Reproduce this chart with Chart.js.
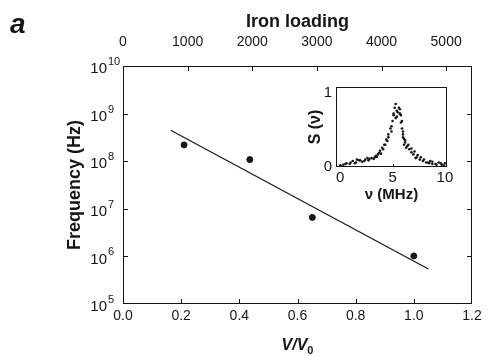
<!DOCTYPE html>
<html>
<head>
<meta charset="utf-8">
<script src="https://cdn.jsdelivr.net/npm/chart.js@4/dist/chart.umd.min.js"></script>
<style>
  body { margin: 0; background: #fff; }
  #wrap { position: relative; width: 487px; height: 356px; }
  #main { position: absolute; left: 0; top: 0; }
  #inset { position: absolute; left: 300px; top: 74px; }
</style>
</head>
<body>
<div id="wrap">
  <canvas id="main" width="487" height="356"></canvas>
  <canvas id="inset" width="160" height="130"></canvas>
</div>
<script>
// main panel: frequency vs V/V0
const vRatio = [0.21, 0.436, 0.651, 1.0];
const freqHz = [2.2e8, 1.08e8, 6.6e6, 1.02e6];
const fitX = [0.164, 1.05];
const fitY = [4.46e8, 5.44e5];
const xTicks = [0.0, 0.2, 0.4, 0.6, 0.8, 1.0, 1.2];
const ironTicks = [0, 1000, 2000, 3000, 4000, 5000];
const freqTicks = [1e5, 1e6, 1e7, 1e8, 1e9, 1e10];

// inset: S(nu) spectrum, dotted strands
const nuA = [0.0, 0.3, 0.6, 0.9, 1.2, 1.5, 1.8, 2.1, 2.4, 2.7, 3.0, 3.2, 3.4, 3.6, 3.8, 4.0, 4.2, 4.4, 4.6, 4.8, 5.0, 5.1, 5.2, 5.3, 5.4];
const sA = [0.02, 0.03, 0.05, 0.04, 0.08, 0.06, 0.09, 0.07, 0.10, 0.09, 0.12, 0.11, 0.15, 0.17, 0.22, 0.26, 0.30, 0.37, 0.44, 0.52, 0.62, 0.70, 0.80, 0.85, 0.76];
const nuB = [0.1, 0.5, 1.0, 1.4, 1.9, 2.3, 2.8, 3.3, 3.7, 4.1, 4.5, 4.9, 5.3, 5.5, 5.7, 5.8, 5.9, 6.0, 6.1, 6.2, 6.4, 6.6, 6.8, 7.0, 7.3, 7.6, 7.9, 8.2, 8.5, 8.8, 9.1, 9.4, 9.7, 10.0];
const sB = [0.01, 0.04, 0.06, 0.05, 0.09, 0.08, 0.11, 0.13, 0.19, 0.24, 0.35, 0.48, 0.66, 0.74, 0.78, 0.70, 0.62, 0.44, 0.38, 0.33, 0.28, 0.24, 0.20, 0.17, 0.13, 0.10, 0.08, 0.06, 0.05, 0.07, 0.04, 0.06, 0.03, 0.05];
const nuC = [5.9, 6.0, 6.2, 6.5, 6.8, 7.1, 7.4, 7.7, 8.0, 8.4, 8.8, 9.2, 9.6, 9.9];
const sC = [0.52, 0.40, 0.36, 0.30, 0.25, 0.21, 0.16, 0.13, 0.10, 0.06, 0.04, 0.03, 0.05, 0.02];
const nuD = [1.6, 2.6, 3.5, 3.9, 4.3, 4.6, 4.9, 5.1, 5.4, 5.6, 5.7, 5.8, 6.0, 6.1, 6.3, 7.2, 8.6];
const sD = [0.10, 0.12, 0.14, 0.18, 0.30, 0.40, 0.55, 0.72, 0.68, 0.80, 0.72, 0.60, 0.48, 0.30, 0.26, 0.12, 0.08];
const insetXTicks = [0, 5, 10];
const insetYTicks = [0, 1];

const FONT = 'Liberation Sans, Arial, Helvetica, sans-serif';
const INK = '#161616';

const pts = (xs, ys) => xs.map((x, i) => ({ x: x, y: ys[i] }));
const keep = list => scale => {
  scale.ticks = list.map(v => ({ value: v }));
};

// frame + inward tick marks, drawn through the scales
function frameTicks(id, len, spec) {
  return {
    id: id,
    afterDatasetsDraw(chart) {
      const { ctx, chartArea: a, scales } = chart;
      ctx.save();
      ctx.strokeStyle = INK;
      ctx.lineWidth = 1;
      ctx.strokeRect(a.left + 0.5, a.top + 0.5, a.right - a.left - 1, a.bottom - a.top - 1);
      ctx.beginPath();
      spec.forEach(s => {
        const sc = scales[s.scale];
        sc.ticks.forEach(t => {
          const p = Math.round(sc.getPixelForValue(t.value)) + 0.5;
          if (s.side === 'bottom' || s.side === 'top') {
            if (p < a.left + 2 || p > a.right - 2) return;
            const y0 = s.side === 'bottom' ? a.bottom : a.top;
            ctx.moveTo(p, y0);
            ctx.lineTo(p, s.side === 'bottom' ? y0 - len : y0 + len);
          } else {
            if (p < a.top + 2 || p > a.bottom - 2) return;
            const x0 = s.side === 'left' ? a.left : a.right;
            ctx.moveTo(x0, p);
            ctx.lineTo(s.side === 'left' ? x0 + len : x0 - len, p);
          }
        });
      });
      ctx.stroke();
      ctx.restore();
    }
  };
}

// panel letter, decade exponents and the V/V0 title
const extraText = {
  id: 'extraText',
  afterDraw(chart) {
    const { ctx, chartArea: a, scales } = chart;
    ctx.save();
    ctx.fillStyle = INK;
    ctx.textBaseline = 'alphabetic';
    ctx.font = 'italic bold 28px ' + FONT;
    ctx.fillText('a', 10, 33);

    ctx.font = '11px ' + FONT;
    ctx.textAlign = 'left';
    scales.y.ticks.forEach(t => {
      const y = scales.y.getPixelForValue(t.value);
      ctx.fillText(String(Math.round(Math.log10(t.value))), a.left - 15, y - 1);
    });

    const cx = (a.left + a.right) / 2;
    ctx.font = 'italic bold 16px ' + FONT;
    const w1 = ctx.measureText('V/V').width;
    ctx.font = 'bold 11px ' + FONT;
    const w2 = ctx.measureText('0').width;
    const x0 = cx - (w1 + w2) / 2;
    ctx.font = 'italic bold 16px ' + FONT;
    ctx.fillText('V/V', x0, 350);
    ctx.font = 'bold 11px ' + FONT;
    ctx.fillText('0', x0 + w1, 354);
    ctx.restore();
  }
};

new Chart(document.getElementById('main'), {
  type: 'scatter',
  data: {
    datasets: [{
      data: pts(vRatio, freqHz),
      backgroundColor: INK,
      borderColor: INK,
      pointRadius: 3,
      pointHoverRadius: 3
    }, {
      type: 'line',
      data: pts(fitX, fitY),
      borderColor: INK,
      borderWidth: 1.2,
      pointRadius: 0,
      fill: false
    }]
  },
  options: {
    responsive: false,
    animation: false,
    layout: { padding: { left: 64, right: 15, top: 0, bottom: 0 } },
    plugins: { legend: { display: false }, tooltip: { enabled: false } },
    scales: {
      x: {
        type: 'linear',
        position: 'bottom',
        min: 0,
        max: 1.2,
        afterBuildTicks: keep(xTicks),
        afterFit: s => { s.height = 52; },
        grid: { display: false, drawTicks: false },
        border: { display: false },
        ticks: { callback: v => v.toFixed(1), color: INK, font: { family: FONT, size: 14 }, padding: 4 },
        title: { display: false }
      },
      x2: {
        type: 'linear',
        position: 'top',
        min: 0,
        max: 5400,
        afterBuildTicks: keep(ironTicks),
        afterFit: s => { s.height = 66; },
        grid: { display: false, drawTicks: false },
        border: { display: false },
        ticks: { callback: v => String(v), color: INK, font: { family: FONT, size: 14 }, padding: 15 },
        title: { display: true, text: 'Iron loading', color: INK, font: { family: FONT, size: 18, weight: 'bold' }, padding: { top: 11, bottom: 0 } }
      },
      y: {
        type: 'logarithmic',
        position: 'left',
        min: 1e5,
        max: 1e10,
        afterBuildTicks: keep(freqTicks),
        afterFit: s => { s.width = 59; },
        grid: { display: false, drawTicks: false },
        border: { display: false },
        ticks: {
          callback: () => '10',
          color: INK,
          font: { family: FONT, size: 15 },
          padding: 16,
          labelOffset: 3
        },
        title: { display: true, text: 'Frequency (Hz)', color: INK, font: { family: FONT, size: 18, weight: 'bold' }, padding: { top: 0, bottom: 4 } }
      }
    }
  },
  plugins: [frameTicks('mainFrame', 5, [
    { scale: 'x', side: 'bottom' },
    { scale: 'x2', side: 'top' },
    { scale: 'y', side: 'left' },
    { scale: 'y', side: 'right' }
  ]), extraText]
});

const dotStyle = { backgroundColor: INK, borderColor: INK, pointRadius: 1.3, pointHoverRadius: 1.3, borderWidth: 0 };

new Chart(document.getElementById('inset'), {
  type: 'scatter',
  data: {
    datasets: [
      Object.assign({ data: pts(nuA, sA) }, dotStyle),
      Object.assign({ data: pts(nuB, sB) }, dotStyle),
      Object.assign({ data: pts(nuC, sC) }, dotStyle),
      Object.assign({ data: pts(nuD, sD) }, dotStyle)
    ]
  },
  options: {
    responsive: false,
    animation: false,
    layout: { padding: { left: 6, right: 13, top: 5, bottom: 0 } },
    plugins: { legend: { display: false }, tooltip: { enabled: false } },
    scales: {
      x: {
        type: 'linear',
        min: -0.4,
        max: 10.2,
        afterBuildTicks: keep(insetXTicks),
        afterFit: s => { s.height = 37; },
        grid: { display: false, drawTicks: false },
        border: { display: false },
        ticks: { color: INK, font: { family: FONT, size: 15 }, padding: 2 },
        title: { display: true, text: 'ν (MHz)', color: INK, font: { family: FONT, size: 15, weight: 'bold' }, padding: 0 }
      },
      y: {
        type: 'linear',
        min: 0,
        max: 1.08,
        afterBuildTicks: keep(insetYTicks),
        afterFit: s => { s.width = 30; },
        grid: { display: false, drawTicks: false },
        border: { display: false },
        ticks: { color: INK, font: { family: FONT, size: 15 }, padding: 4 },
        title: { display: true, text: 'S (ν)', color: INK, font: { family: FONT, size: 16, weight: 'bold' }, padding: 0 }
      }
    }
  },
  plugins: [frameTicks('insetFrame', 3, [{ scale: 'x', side: 'bottom' }])]
});
</script>
</body>
</html>
